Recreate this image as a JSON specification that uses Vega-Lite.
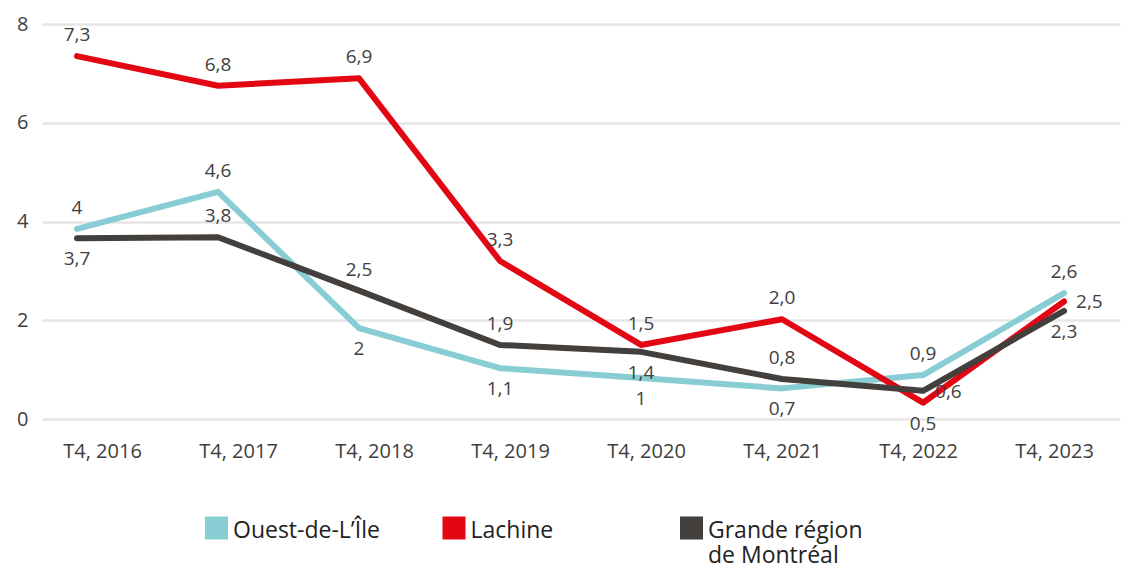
{
  "$schema": "https://vega.github.io/schema/vega-lite/v6.json",
  "autosize": "none",
  "width": 1078,
  "height": 395,
  "padding": {"left": 42, "top": 24, "right": 10, "bottom": 152},
  "background": "white",
  "config": {
    "view": {"stroke": null},
    "font": "Open Sans",
    "axis": {"labelFont": "Open Sans", "labelColor": "#404040"},
    "legend": {"labelFont": "Open Sans", "labelColor": "#222222"}
  },
  "data": {
    "values": [
      {"period": "T4, 2016", "series": "Ouest-de-L’Île", "value": 3.85, "label": "4", "pos": "above"},
      {"period": "T4, 2017", "series": "Ouest-de-L’Île", "value": 4.6, "label": "4,6", "pos": "above"},
      {"period": "T4, 2018", "series": "Ouest-de-L’Île", "value": 1.84, "label": "2", "pos": "below"},
      {"period": "T4, 2019", "series": "Ouest-de-L’Île", "value": 1.03, "label": "1,1", "pos": "below"},
      {"period": "T4, 2020", "series": "Ouest-de-L’Île", "value": 0.83, "label": "1", "pos": "below"},
      {"period": "T4, 2021", "series": "Ouest-de-L’Île", "value": 0.62, "label": "0,7", "pos": "below"},
      {"period": "T4, 2022", "series": "Ouest-de-L’Île", "value": 0.89, "label": "0,9", "pos": "above"},
      {"period": "T4, 2023", "series": "Ouest-de-L’Île", "value": 2.55, "label": "2,6", "pos": "above"},
      {"period": "T4, 2016", "series": "Lachine", "value": 7.35, "label": "7,3", "pos": "above"},
      {"period": "T4, 2017", "series": "Lachine", "value": 6.75, "label": "6,8", "pos": "above"},
      {"period": "T4, 2018", "series": "Lachine", "value": 6.9, "label": "6,9", "pos": "above"},
      {"period": "T4, 2019", "series": "Lachine", "value": 3.2, "label": "3,3", "pos": "above"},
      {"period": "T4, 2020", "series": "Lachine", "value": 1.5, "label": "1,5", "pos": "above"},
      {"period": "T4, 2021", "series": "Lachine", "value": 2.02, "label": "2,0", "pos": "above"},
      {"period": "T4, 2022", "series": "Lachine", "value": 0.33, "label": "0,5", "pos": "below"},
      {"period": "T4, 2023", "series": "Lachine", "value": 2.38, "label": "2,5", "pos": "right"},
      {"period": "T4, 2016", "series": "Grande région de Montréal", "value": 3.66, "label": "3,7", "pos": "below"},
      {"period": "T4, 2017", "series": "Grande région de Montréal", "value": 3.68, "label": "3,8", "pos": "above"},
      {"period": "T4, 2018", "series": "Grande région de Montréal", "value": 2.6, "label": "2,5", "pos": "above"},
      {"period": "T4, 2019", "series": "Grande région de Montréal", "value": 1.5, "label": "1,9", "pos": "above"},
      {"period": "T4, 2020", "series": "Grande région de Montréal", "value": 1.36, "label": "1,4", "pos": "below"},
      {"period": "T4, 2021", "series": "Grande région de Montréal", "value": 0.81, "label": "0,8", "pos": "above"},
      {"period": "T4, 2022", "series": "Grande région de Montréal", "value": 0.57, "label": "0,6", "pos": "right"},
      {"period": "T4, 2023", "series": "Grande région de Montréal", "value": 2.19, "label": "2,3", "pos": "below"}
    ]
  },
  "encoding": {
    "x": {
      "field": "period",
      "type": "ordinal",
      "sort": null,
      "scale": {"type": "point", "padding": 0.3227, "align": 0.385},
      "axis": {
        "title": null,
        "domain": false,
        "ticks": false,
        "grid": false,
        "labelAngle": 0,
        "labelFontSize": 20,
        "labelPadding": 22,
        "labelOffset": {
          "condition": [
            {"test": "datum.value == 'T4, 2016'", "value": 25},
            {"test": "datum.value == 'T4, 2017'", "value": 20},
            {"test": "datum.value == 'T4, 2018'", "value": 15},
            {"test": "datum.value == 'T4, 2019'", "value": 10},
            {"test": "datum.value == 'T4, 2020'", "value": 5},
            {"test": "datum.value == 'T4, 2022'", "value": -5},
            {"test": "datum.value == 'T4, 2023'", "value": -10}
          ],
          "value": 0
        }
      }
    },
    "y": {
      "field": "value",
      "type": "quantitative",
      "scale": {"domain": [0, 8], "nice": false},
      "axis": {
        "title": null,
        "domain": false,
        "ticks": false,
        "values": [0, 2, 4, 6, 8],
        "labelFontSize": 20,
        "labelPadding": 14,
        "gridColor": "#e6e6e6",
        "gridWidth": 2.5
      }
    }
  },
  "layer": [
    {
      "mark": {"type": "line", "strokeWidth": 6, "strokeCap": "round", "strokeJoin": "round"},
      "encoding": {
        "color": {
          "field": "series",
          "type": "nominal",
          "scale": {
            "domain": ["Ouest-de-L’Île", "Lachine", "Grande région de Montréal"],
            "range": ["#88cdd3", "#e30613", "#433f3c"]
          },
          "legend": {
            "title": null,
            "orient": "none",
            "legendX": 163,
            "legendY": 492,
            "direction": "horizontal",
            "columns": 3,
            "gridAlign": "all",
            "columnPadding": 54.5,
            "symbolType": "square",
            "symbolSize": 529,
            "symbolStrokeWidth": 0,
            "symbolOpacity": 1,
            "labelFontSize": 23,
            "labelLimit": 400,
            "labelOffset": 5,
            "labelBaseline": "alphabetic",
            "labelLineHeight": 30,
            "labelExpr": "datum.label == 'Grande région de Montréal' ? ['Grande région', 'de Montréal'] : [datum.label, '']",
            "encode": {
              "symbols": {"update": {"fill": {"scale": "color", "field": "value"}, "strokeWidth": {"value": 0}, "y": {"value": 12}}},
              "labels": {"update": {"y": {"value": 12}, "dy": {"value": 10}}}
            }
          }
        }
      }
    },
    {
      "transform": [{"filter": "datum.pos == 'above'"}],
      "mark": {"type": "text", "fontSize": 19, "color": "#404040", "dy": -21},
      "encoding": {"text": {"field": "label"}}
    },
    {
      "transform": [{"filter": "datum.pos == 'below'"}],
      "mark": {"type": "text", "fontSize": 19, "color": "#404040", "dy": 21},
      "encoding": {"text": {"field": "label"}}
    },
    {
      "transform": [{"filter": "datum.pos == 'right'"}],
      "mark": {"type": "text", "fontSize": 19, "color": "#404040", "dx": 12, "dy": 1, "align": "left"},
      "encoding": {"text": {"field": "label"}}
    }
  ]
}
